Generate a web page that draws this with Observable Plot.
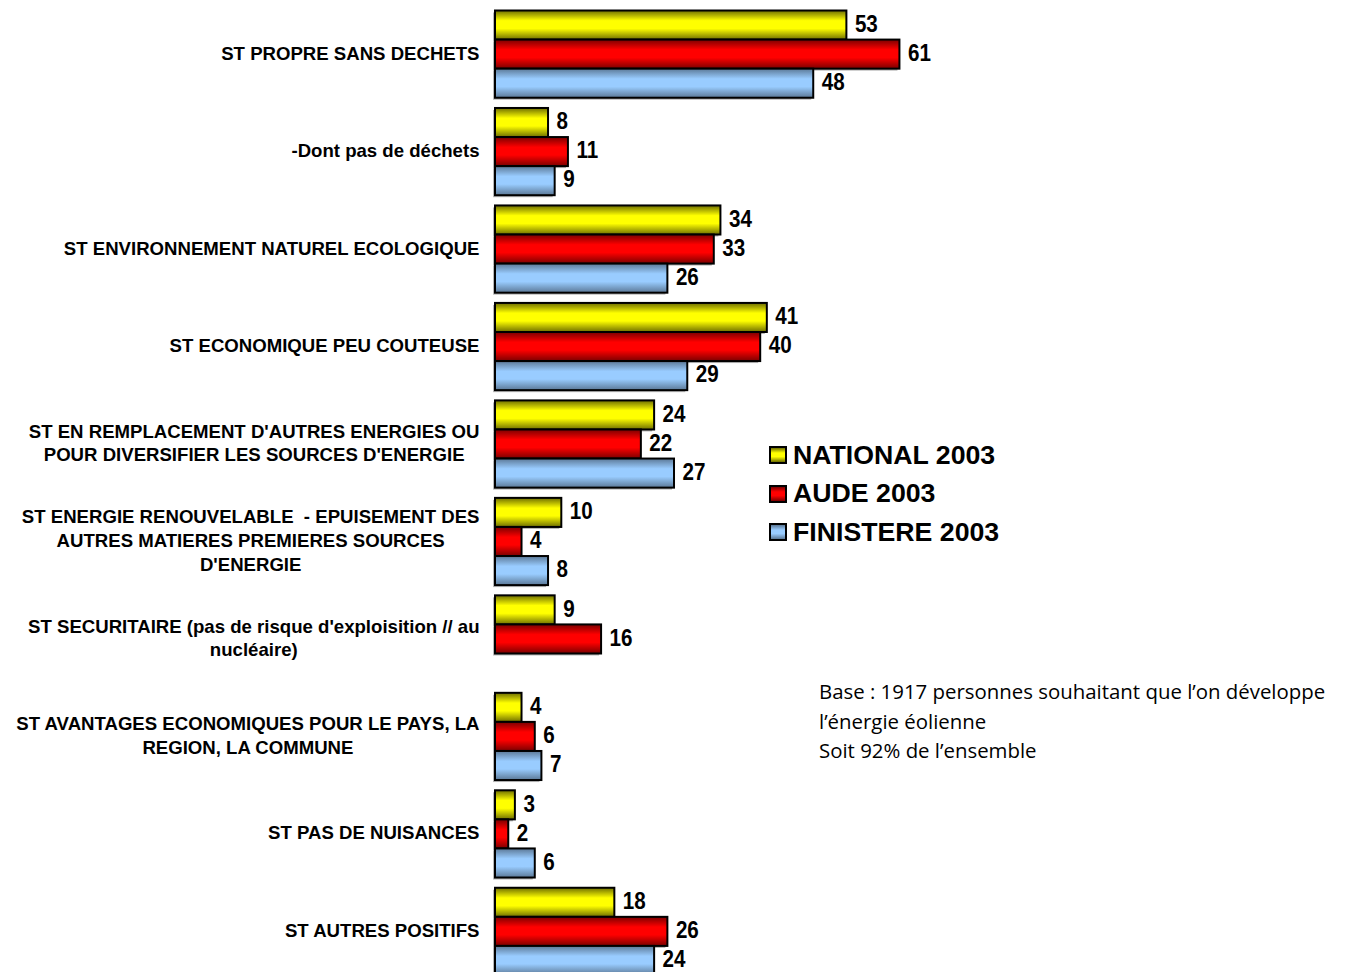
<!DOCTYPE html>
<html>
<head>
<meta charset="utf-8">
<script src="https://cdn.jsdelivr.net/npm/d3@7"></script>
<script src="https://cdn.jsdelivr.net/npm/@observablehq/plot@0.6"></script>
<style>
  html, body { margin: 0; padding: 0; background: #fff; overflow: hidden; width: 1346px; height: 972px; }
  #chart { position: absolute; left: 0; top: 0; }
  #legend { position: absolute; left: 769px; top: 436px; font-family: "Liberation Sans", Arial, sans-serif; font-weight: bold; font-size: 26.7px; color: #000; }
  #legend .row { height: 38.5px; display: flex; align-items: center; }
  #legend .sw { width: 14px; height: 14px; border: 2px solid #000; margin-right: 6px; }
  #note { position: absolute; left: 819px; top: 677px; font-family: "Comic Sans MS", "Open Sans", sans-serif; font-size: 20.4px; line-height: 29.5px; color: #000; white-space: nowrap; }
</style>
</head>
<body>
<div id="chart"></div>
<div id="legend"></div>
<div id="note">Base : 1917 personnes souhaitant que l’on développe<br>l’énergie éolienne<br>Soit 92% de l’ensemble</div>
<script>
const categories = [
  "ST PROPRE SANS DECHETS",
  "-Dont pas de déchets",
  "ST ENVIRONNEMENT NATUREL ECOLOGIQUE",
  "ST ECONOMIQUE PEU COUTEUSE",
  "ST EN REMPLACEMENT D'AUTRES ENERGIES OU POUR DIVERSIFIER LES SOURCES D'ENERGIE",
  "ST ENERGIE RENOUVELABLE  - EPUISEMENT DES AUTRES MATIERES PREMIERES SOURCES D'ENERGIE",
  "ST SECURITAIRE (pas de risque d'exploisition // au nucléaire)",
  "ST AVANTAGES ECONOMIQUES POUR LE PAYS, LA REGION, LA COMMUNE",
  "ST PAS DE NUISANCES",
  "ST AUTRES POSITIFS"
];
const categoryLabels = [
  "ST PROPRE SANS DECHETS",
  "-Dont pas de déchets",
  "ST ENVIRONNEMENT NATUREL ECOLOGIQUE",
  "ST ECONOMIQUE PEU COUTEUSE",
  "ST EN REMPLACEMENT D'AUTRES ENERGIES OU\nPOUR DIVERSIFIER LES SOURCES D'ENERGIE",
  "ST ENERGIE RENOUVELABLE  - EPUISEMENT DES\nAUTRES MATIERES PREMIERES SOURCES\nD'ENERGIE",
  "ST SECURITAIRE (pas de risque d'exploisition // au\nnucléaire)",
  "ST AVANTAGES ECONOMIQUES POUR LE PAYS, LA\nREGION, LA COMMUNE",
  "ST PAS DE NUISANCES",
  "ST AUTRES POSITIFS"
];
const seriesNames = ["NATIONAL 2003", "AUDE 2003", "FINISTERE 2003"];
const national  = [53, 8, 34, 41, 24, 10, 9, 4, 3, 18];
const aude      = [61, 11, 33, 40, 22, 4, 16, 6, 2, 26];
const finistere = [48, 9, 26, 29, 27, 8, null, 7, 6, 24];

const seriesValues = [national, aude, finistere];
const gradIds = ["gY", "gR", "gB"];
const gradStops = [
  ["#6e6e00", "#ffff00", "#ffff00", "#6e6e00"],
  ["#7a0000", "#ff0000", "#ff0000", "#7a0000"],
  ["#5b7896", "#99ccff", "#99ccff", "#5b7896"]
];

const rows = [];
categories.forEach((c, i) => {
  seriesNames.forEach((s, j) => {
    const v = seriesValues[j][i];
    if (v != null) rows.push({cat: c, series: s, value: v});
  });
});
const labelOf = Object.fromEntries(categories.map((c, i) => [c, categoryLabels[i]]));

const W = 1346, ML = 495, PX_PER_UNIT = 6.63;

const chart = Plot.plot({
  width: W,
  height: 975,
  marginLeft: ML,
  marginRight: 0,
  marginTop: 10.5,
  marginBottom: 0,
  x: {domain: [0, (W - ML) / PX_PER_UNIT], axis: null},
  y: {domain: seriesNames, padding: 0, axis: null, round: false},
  fy: {domain: categories, paddingInner: 0.105, paddingOuter: 0, round: false, label: null, axis: null},
  color: {domain: seriesNames, range: gradIds.map(id => `url(#${id})`)},
  marks: [
    Plot.barX(rows, {x: "value", y: "series", fy: "cat", fill: "#b8b8b8", dx: -2, dy: 2}),
    Plot.barX(rows, {x: "value", y: "series", fy: "cat", fill: "series", stroke: "#000", strokeWidth: 2}),
    Plot.text(rows, {
      x: "value", y: "series", fy: "cat", text: d => String(d.value),
      dx: 8, dy: -1.5, textAnchor: "start", fontSize: 24, fontWeight: "bold",
      fontFamily: "'Liberation Sans', Arial, sans-serif",
      fill: "#000", className: "vlab"
    }),
    Plot.axisFy({
      anchor: "left",
      tickSize: 0, tickPadding: 16, label: null, dy: -2.5,
      tickFormat: c => labelOf[c],
      fontSize: 18.6, fontWeight: "bold", lineHeight: 1.27,
      fontFamily: "'Liberation Sans', Arial, sans-serif", fill: "#000"
    })
  ]
});

// gradients
const NS = "http://www.w3.org/2000/svg";
const defs = document.createElementNS(NS, "defs");
gradIds.forEach((id, k) => {
  const g = document.createElementNS(NS, "linearGradient");
  g.setAttribute("id", id);
  g.setAttribute("x1", "0"); g.setAttribute("y1", "0");
  g.setAttribute("x2", "0"); g.setAttribute("y2", "1");
  const offs = [0, 0.35, 0.62, 1];
  gradStops[k].forEach((col, m) => {
    const s = document.createElementNS(NS, "stop");
    s.setAttribute("offset", offs[m]);
    s.setAttribute("stop-color", col);
    g.appendChild(s);
  });
  defs.appendChild(g);
});
chart.insertBefore(defs, chart.firstChild);
document.getElementById("chart").appendChild(chart);

// narrow value labels (Arial Narrow look)
chart.querySelectorAll('.vlab text, g.vlab text').forEach(t => {
  const tr = t.getAttribute("transform") || "";
  t.setAttribute("transform", `${tr} scale(0.86,1)`);
});

// center multi-line category labels within their block (right edge kept)
chart.querySelectorAll('[aria-label="fy-axis tick label"] text').forEach(t => {
  const w = t.getBBox().width;
  t.setAttribute("text-anchor", "middle");
  const tr = t.getAttribute("transform") || "";
  t.setAttribute("transform", `${tr} translate(${-w / 2},0)`);
});

// legend
const legend = document.getElementById("legend");
seriesNames.forEach((s, k) => {
  const row = document.createElement("div");
  row.className = "row";
  const sw = document.createElement("div");
  sw.className = "sw";
  const st = gradStops[k];
  sw.style.background = `linear-gradient(${st[0]} 0%, ${st[1]} 35%, ${st[2]} 62%, ${st[3]} 100%)`;
  const lab = document.createElement("span");
  lab.textContent = s;
  row.appendChild(sw);
  row.appendChild(lab);
  legend.appendChild(row);
});
</script>
</body>
</html>
